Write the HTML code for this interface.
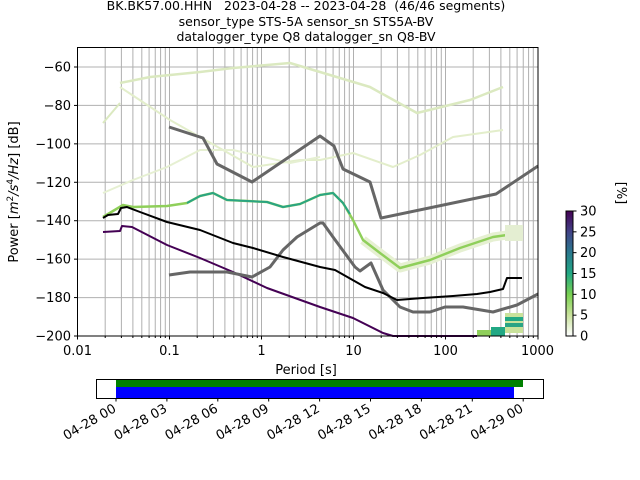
<!DOCTYPE html>
<html><head><meta charset="utf-8"><style>
html,body{margin:0;padding:0;background:#fff;}
svg{display:block;font-family:"DejaVu Sans","Liberation Sans",sans-serif;}
text{white-space:pre;}
</style></head><body>
<svg id="s" width="640" height="480" xmlns="http://www.w3.org/2000/svg">
<defs>
<linearGradient id="cb" x1="0" y1="1" x2="0" y2="0">
<stop offset="0" stop-color="#ffffff"/>
<stop offset="0.17" stop-color="#c9e29b"/>
<stop offset="0.33" stop-color="#7ad151"/>
<stop offset="0.5" stop-color="#22a884"/>
<stop offset="0.67" stop-color="#2a788e"/>
<stop offset="0.83" stop-color="#414487"/>
<stop offset="1" stop-color="#440154"/>
</linearGradient>
</defs>
<g font-size="12.5" fill="#000" text-anchor="middle">
<text x="306" y="10" xml:space="preserve">BK.BK57.00.HHN   2023-04-28 -- 2023-04-28  (46/46 segments)</text>
<text x="306" y="26">sensor_type STS-5A sensor_sn STS5A-BV</text>
<text x="306" y="41">datalogger_type Q8 datalogger_sn Q8-BV</text>
</g>
<g id="grid" stroke="#b0b0b0" stroke-width="1"></g>
<g id="ppsd" fill="none" stroke-linejoin="round">
<polyline points="120,83 150,77 200,72 233,68 290,63 320,72 370,87 417,113 470,100 503,87" stroke="#dbe9c0" stroke-width="2.5"/>
<polyline points="120,87 170,120 253,167 300,160 320,160 353,153 393,167 420,155 453,137 503,130" stroke="#e3eecb" stroke-width="2"/>
<polyline points="103,193 133,180 167,167 200,150 233,150 290,163 320,157" stroke="#e6f0d2" stroke-width="2"/>
<polyline points="103,123 120,103" stroke="#dbe9c0" stroke-width="2"/>
<polyline points="363,240 380,253 400,268 430,260 460,248 493,237 507,235" stroke="#e6f0d2" stroke-width="9"/>
<polyline points="103,217 123,205 133,207 167,206 187,203 200,196 213,193 227,200 267,202 283,207 300,204 320,195 333,193 343,203 353,220 363,240 380,253 400,268 430,260 460,248 493,237 507,235" stroke="#8fcf5a" stroke-width="2.5"/>
<polyline points="187,203 200,196 213,193 227,200 267,202 283,207 300,204 320,195 333,193 343,203 350,214" stroke="#2aa483" stroke-width="2"/>
<polyline points="103,232 120,231 122,226 132,227 167,245 200,258 233,272 267,288 320,307 353,318 383,333 393,336 477,336" stroke="#440154" stroke-width="2"/>
</g>
<g id="blocks">
<rect x="505" y="225" width="18" height="16" fill="#e4eed2"/>
<rect x="477" y="330" width="14" height="6" fill="#8fcf5a"/>
<rect x="491" y="327" width="14" height="9" fill="#22a884"/>
<rect x="505" y="313" width="18" height="20" fill="#c9e29b"/>
<rect x="505" y="317" width="18" height="4" fill="#22a884"/>
<rect x="505" y="323" width="18" height="4" fill="#2aa484"/>
</g>
<g fill="none" stroke="#666" stroke-width="3" stroke-linejoin="round">
<polyline points="169,127 203,138 217,164 252,182 320,136 334,146 343,169 370,182 381,218 496,194 538,166"/>
<polyline points="169,275 190,272 227,272 252,277 270,267 283,250 297,237 320,223 323,223 333,237 355,267 360,271 371,263 383,290 400,307 413,312 430,312 445,307 463,307 493,312 517,305 538,294"/>
</g>
<polyline fill="none" stroke="#000" stroke-width="2" stroke-linejoin="round" points="103,218 108,215 118,214 121,208 127,207 140,212 167,222 200,230 233,243 253,248 283,257 320,267 335,270 365,287 383,293 397,300 423,298 453,296 477,294 490,292 503,289 507,278 522,278"/>
<rect x="77.5" y="47.5" width="460.5" height="288.5" fill="none" stroke="#000" stroke-width="1"/>
<g id="ticks" stroke="#000" stroke-width="1"></g>
<g id="labels" font-size="13" fill="#000"></g>
<text x="306" y="374" font-size="13" text-anchor="middle">Period [s]</text>
<text transform="translate(18,192) rotate(-90)" font-size="13" text-anchor="middle">Power [<tspan font-style="italic">m</tspan><tspan font-size="9" dy="-5">2</tspan><tspan dy="5" font-style="italic">/s</tspan><tspan font-size="9" dy="-5">4</tspan><tspan dy="5" font-style="italic">/Hz</tspan>] [dB]</text>
<rect x="566" y="211" width="7" height="125" fill="url(#cb)" stroke="#000" stroke-width="1"/>
<g id="cbt" font-size="13"></g>
<text transform="translate(617,193) rotate(90)" font-size="13" text-anchor="middle">[%]</text>
<rect x="96.5" y="379.5" width="447" height="19" fill="#fff" stroke="#000" stroke-width="1"/>
<rect x="116" y="380" width="407" height="7" fill="#008000"/>
<rect x="116" y="387" width="398" height="11" fill="#0000ff"/>
<g id="tl" font-size="13"></g>
</svg>
<script>
var NS="http://www.w3.org/2000/svg";
function el(p,t,a,txt){var e=document.createElementNS(NS,t);for(var k in a)e.setAttribute(k,a[k]);if(txt)e.textContent=txt;document.getElementById(p).appendChild(e);}
function X(p){return 77.5+92*Math.log10(p/0.01);}
function Y(d){return 336-(d+200)*1.9215;}
for(var dec=-2;dec<3;dec++){for(var m=1;m<10;m++){var x=X(m*Math.pow(10,dec));
el("grid","line",{x1:x,x2:x,y1:48,y2:336});
el("ticks","line",{x1:x,x2:x,y1:336,y2:m==1?339.5:338});}}
el("ticks","line",{x1:538,x2:538,y1:336,y2:339.5});
var lab=["0.01","0.1","1","10","100","1000"];
for(var i=0;i<6;i++)el("labels","text",{x:X(Math.pow(10,i-2)),y:355,"text-anchor":"middle"},lab[i]);
for(var d=-60;d>=-200;d-=20){var y=Y(d);el("grid","line",{x1:77.5,x2:538,y1:y,y2:y});
el("ticks","line",{x1:74,x2:77.5,y1:y,y2:y});
el("labels","text",{x:71,y:y+4.5,"text-anchor":"end"},"\u2212"+(-d));}
for(var v=0;v<=30;v+=5){var y=336-v*125/30;el("cbt","line",{x1:573,x2:576.5,y1:y,y2:y,stroke:"#000"});el("cbt","text",{x:580,y:y+4.5},""+v);}
var tl=["04-28 00","04-28 03","04-28 06","04-28 09","04-28 12","04-28 15","04-28 18","04-28 21","04-29 00"];
for(var i=0;i<9;i++){var x=116+i*50.9;el("tl","line",{x1:x,x2:x,y1:398,y2:401.5,stroke:"#000"});
el("tl","text",{x:0,y:0,"text-anchor":"end",transform:"translate("+(x+1)+",411) rotate(-30)"},tl[i]);}
</script>
</body></html>
